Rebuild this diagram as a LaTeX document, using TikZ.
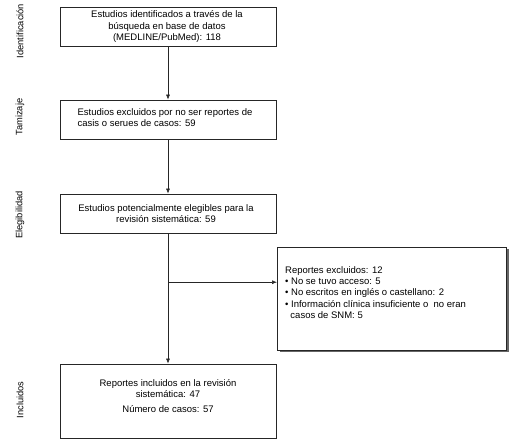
\documentclass[tikz,border=0pt]{standalone}
\usepackage{fontspec}
\setmainfont{Liberation Sans}
\usetikzlibrary{arrows.meta,calc}
\begin{document}
\begin{tikzpicture}[x=1pt,y=-1pt,
  txt/.style={font=\fontsize{9.5}{11.2}\selectfont, inner sep=0pt},
  box/.style={draw=black!85, line width=0.7pt, rectangle, inner sep=0pt},
  lab/.style={font=\fontsize{9.3}{11}\selectfont, rotate=90, inner sep=0pt},
  arr/.style={draw=black!85, line width=0.6pt, -{Latex[length=5pt,width=4pt]}}
]
\useasboundingbox (0,0) rectangle (515,441);
% boxes
\node[box, minimum width=216pt, minimum height=39pt] (b1) at (168,26.5) {};
\node[txt, align=center] (t1) at (167,26.5) {Estudios identificados a través de la\\búsqueda en base de datos\\(MEDLINE/PubMed): 118};
\node[box, minimum width=216pt, minimum height=39pt] (b2) at (168,119.5) {};
\node[txt, align=left] (t2) at (165,118) {Estudios excluidos por no ser reportes de\\casis o serues de casos: 59};
\node[box, minimum width=216pt, minimum height=39pt] (b3) at (168,213.5) {};
\node[txt, align=center] (t3) at (166,214) {Estudios potencialmente elegibles para la\\revisión sistemática: 59};
\node[box, minimum width=216pt, minimum height=74pt] (b5) at (168,401) {};
\node[txt, align=center] (t5) at (168,396) {Reportes incluidos en la revisión\\sistemática: 47\\[4pt]Número de casos: 57};
% excluded box with shadow
\fill[black!60] (279.5,249) rectangle (509,352.5);
\node[box, fill=white, minimum width=229pt, minimum height=103pt, anchor=north west] (b4) at (277,247) {};
\node[txt, align=left, anchor=north west] (t4) at (285,266.5) {Reportes excluidos: 12\\
\textbullet\ No se tuvo acceso: 5\\
\textbullet\ No escritos en inglés o castellano: 2\\
\textbullet\ Información clínica insuficiente o\ \ no eran\\
\ \ casos de SNM: 5};
% side labels
\node[lab] (l1) at (20,31) {Identificación};
\node[lab] (l2) at (20,117) {Tamizaje};
\node[lab] (l3) at (20,215) {Elegibilidad};
\node[lab] (l4) at (20,400) {Incluidos};
% connectors
\draw[arr] (b1.south) -- (b2.north);
\draw[arr] (b2.south) -- (b3.north);
\draw[arr] (b3.south) -- (b5.north);
\coordinate (br) at ($(b3.south)!0.375!(b5.north)$);
\draw[arr] (br) -- (br -| b4.west);
\end{tikzpicture}
\end{document}
